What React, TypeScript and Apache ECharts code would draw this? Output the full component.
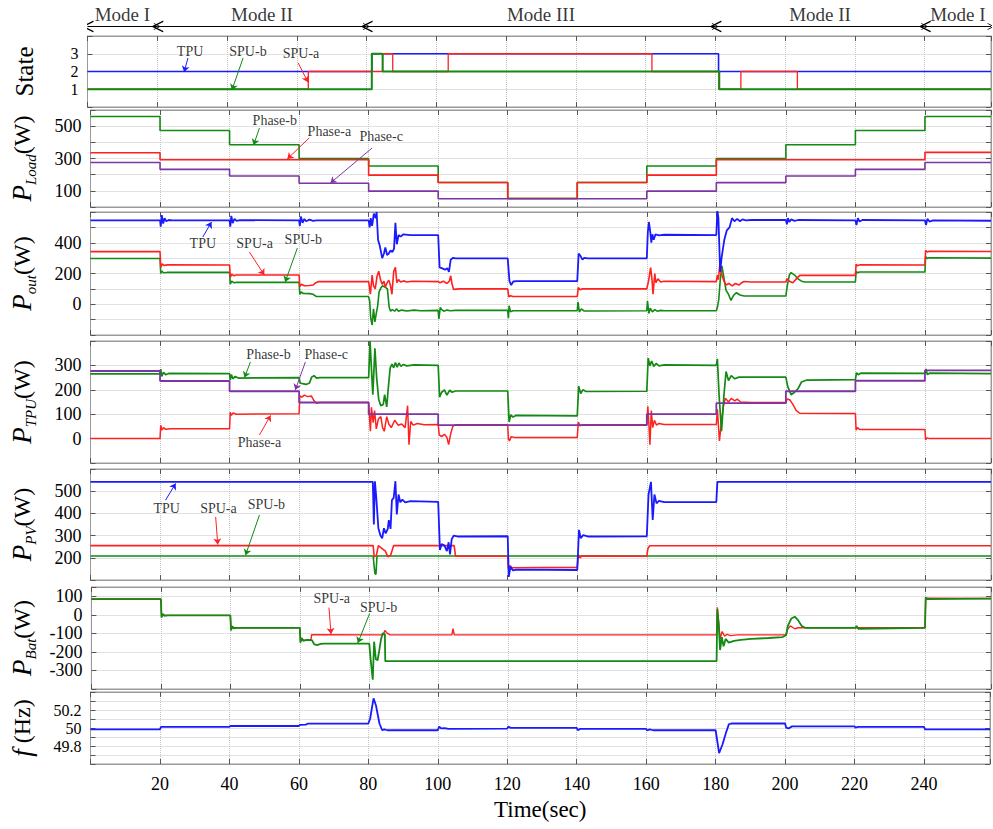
import React, { useEffect, useRef } from 'react';
import * as echarts from 'echarts';

const FONT = "'Liberation Serif', 'Times New Roman', serif";
const BLUE = '#1a1aff';
const RED = '#ff2020';
const GREEN = '#138a13';
const PURPLE = '#7e35a4';

const T_MAX = 259;
const modeBounds = [0, 20, 80, 180, 240, 259];
const modeNames = ['Mode I', 'Mode II', 'Mode III', 'Mode II', 'Mode I'];
const timeTicks = [20, 40, 60, 80, 100, 120, 140, 160, 180, 200, 220, 240];

const stateTicks = [1, 2, 3];
const loadTicks = [100, 300, 500];
const outTicks = [0, 200, 400];
const tpuTicks = [0, 100, 200, 300];
const pvTicks = [200, 300, 400, 500];
const batTicks = [100, 0, -100, -200, -300];
const freqTicks = [49.8, 50, 50.2];

// ---- State ----
const stateTPU = [[0, 2], [81.5, 2], [81.5, 3], [180.9, 3], [180.9, 2], [259, 2]];
const stateSPUa = [[0, 1], [63.3, 1], [63.3, 2], [84.6, 2], [84.6, 3], [87.5, 3], [87.5, 2], [103.4, 2], [103.4, 3], [161.8, 3], [161.8, 2], [181, 2], [181, 1], [187.3, 1], [187.3, 2], [203.5, 2], [203.5, 1], [259, 1]];
const stateSPUb = [[0, 1], [81.5, 1], [81.5, 3], [84.6, 3], [84.6, 2], [181.1, 2], [181.1, 1], [259, 1]];

// ---- P_Load ----
const loadA = [[0, 336], [20, 336], [20, 292], [80, 292], [80, 197], [100, 197], [100, 152], [120, 152], [120, 53], [140, 53], [140, 152], [160, 152], [160, 197], [180, 197], [180, 292], [240, 292], [240, 338], [259, 338]];
const loadB = [[0, 560], [20, 560], [20, 473], [40, 473], [40, 385], [60, 385], [60, 300], [80, 300], [80, 254], [100, 254], [100, 152], [120, 152], [120, 53], [140, 53], [140, 152], [160, 152], [160, 254], [180, 254], [180, 300], [200, 300], [200, 385], [220, 385], [220, 473], [240, 473], [240, 560], [259, 560]];
const loadC = [[0, 275], [20, 275], [20, 233], [40, 233], [40, 192], [60, 192], [60, 147], [80, 147], [80, 98], [100, 98], [100, 51], [160, 51], [160, 98], [180, 98], [180, 151], [200, 151], [200, 192], [220, 192], [220, 233], [240, 233], [240, 275], [259, 275]];

// ---- P_out ----
const outTPU = [[0, 545], [20, 545], [20.2, 505], [20.5, 580], [20.9, 525], [21.3, 560], [21.8, 540], [22.5, 548], [23.5, 545],
[40, 545], [40.2, 505], [40.5, 575], [40.9, 528], [41.4, 556], [42, 542], [43, 547],
[60, 545], [60.2, 510], [60.5, 570], [61, 530], [61.5, 555], [62, 540], [63, 550], [64, 542], [65, 546],
[80, 545], [80.3, 500], [80.6, 560], [81, 510], [81.5, 590], [82, 560], [82.3, 600], [82.7, 420], [83.2, 380], [83.9, 300], [84.4, 330], [84.8, 370], [85.3, 320], [85.8, 330], [86.3, 350], [86.8, 340], [87.3, 360], [87.7, 530], [88.1, 390], [88.6, 450], [89.2, 440], [90, 455], [92, 450],
[100, 450], [100.4, 240], [101, 235], [102, 225], [102.6, 235], [103.1, 210], [103.6, 290], [104.3, 302], [105, 298],
[120, 298], [120.5, 150], [121, 125], [121.6, 148], [122.5, 150],
[140, 150], [140.4, 330], [140.9, 315], [141.5, 290], [142, 302], [143, 298],
[160, 298], [160.3, 470], [160.6, 535], [161, 470], [161.3, 400], [161.6, 455], [162, 420], [162.5, 455], [163.5, 448], [165, 452],
[180, 450], [180.3, 610], [180.6, 560], [181.1, 210], [181.5, 300], [182.3, 420], [183, 480], [183.8, 500], [184.5, 560], [185.2, 540], [186, 555], [186.8, 540], [187.5, 552], [188.5, 546], [190, 548],
[200, 548], [200.3, 520], [200.6, 560], [201, 535], [201.5, 552], [202.5, 542], [203.5, 548],
[220, 546], [220.3, 515], [220.7, 560], [221.2, 538], [222, 548],
[240, 546], [240.3, 515], [240.7, 555], [241.3, 538], [242.3, 545], [259, 543]];
const outSPUa = [[0, 342], [20, 342], [20.2, 240], [20.6, 262], [21.2, 252], [22, 256],
[40, 255], [40.2, 175], [40.6, 195], [41.2, 186], [42, 190],
[60, 190], [60.2, 115], [60.7, 130], [61.5, 120], [63, 122], [64, 125], [64.8, 140], [65.5, 147],
[80, 147], [80.5, 65], [81, 190], [81.4, 120], [81.9, 100], [82.4, 180], [82.9, 215], [83.4, 160], [83.9, 130], [84.4, 150], [84.8, 110], [85.3, 140], [85.8, 157], [86.3, 120], [86.7, 65], [87.2, 212], [87.7, 240], [88.1, 140], [88.6, 160], [89.2, 145], [90, 152], [91, 145], [92.5, 150],
[100, 147], [100.5, 140], [101.5, 150], [102.5, 135], [103.2, 150], [103.6, 185], [104, 130], [104.4, 97], [106, 100],
[120, 100], [120.3, 48], [120.8, 55], [121.5, 50],
[140, 50], [140.3, 108], [140.8, 95], [141.5, 100],
[160, 100], [160.5, 150], [161.1, 238], [161.5, 160], [161.8, 65], [162.3, 200], [162.6, 140], [163.2, 165], [164, 145], [165, 150],
[180, 147], [180.3, 190], [180.6, 160], [181, 260], [181.5, 200], [182.2, 150], [182.8, 125], [183.6, 135], [184.6, 120], [185.5, 135], [186.5, 125], [187.3, 140], [188, 148], [190, 145],
[200, 145], [200.3, 165], [201, 150], [202, 140], [203, 165], [204, 188],
[220, 188], [220.2, 260], [220.6, 250], [221.2, 256],
[240, 255], [240.2, 350], [240.7, 340], [241.3, 345], [259, 343]];
const outSPUb = [[0, 298], [20, 298], [20.2, 200], [20.5, 215], [21, 205], [22, 207],
[40, 207], [40.2, 130], [40.6, 150], [41.2, 140], [42, 142],
[60, 142], [60.2, 65], [60.6, 80], [61.2, 70], [63, 69], [64, 65], [65, 50],
[80, 50], [80.3, 20], [80.6, -90], [81, -135], [81.4, -30], [81.8, -115], [82.2, -60], [82.6, -10], [83, 80], [83.5, 105], [84, 120], [84.8, 110], [85.4, 100], [85.9, -20], [86.3, -45], [86.8, -35], [87.5, -45], [88, -30], [88.6, -45], [89.5, -38], [91, -44], [93, -38], [95, -42],
[100, -40], [100.2, -95], [100.6, -20], [101, -35], [101.6, -45], [102.5, -38], [103.5, -42], [105, -40],
[120, -40], [120.2, -90], [120.4, -10], [120.8, -48], [121.5, -42],
[140, -42], [140.2, 15], [140.6, -50], [141.2, -30], [142, -44],
[160, -42], [160.2, 20], [160.6, -60], [161, -25], [161.6, -50], [162.3, -35], [163, -45], [164, -40], [165, -42],
[180, -42], [180.3, -20], [180.7, 30], [181.1, 150], [181.6, 250], [182.2, 170], [182.8, 90], [183.5, 65], [184.2, 25], [185, 60], [185.8, 75], [186.8, 60], [188, 54],
[200, 54], [200.4, 120], [201, 190], [201.5, 206], [202.5, 190], [203.5, 165], [204.5, 150], [205.5, 145],
[220, 145], [220.2, 215], [220.6, 205], [221.2, 210],
[240, 210], [240.2, 310], [240.6, 298], [241.2, 302], [259, 300]];

// ---- P_TPU ----
const tpuA = [[0, 0], [20, 0], [20.2, 55], [20.5, 35], [21, 45], [21.6, 38], [23, 40],
[40, 40], [40.2, 108], [40.5, 95], [41, 105], [42, 100],
[60, 102], [60.2, 175], [60.8, 170], [61.5, 178], [62.5, 172], [63.5, 175], [64.3, 155], [65, 145], [66, 148],
[80, 148], [80.2, 100], [80.5, 30], [80.8, 128], [81.3, 65], [81.7, 115], [82.2, 40], [82.8, 80], [83.5, 90], [84, 45], [84.5, 30], [85.2, 90], [85.8, 60], [86.5, 45], [87.5, 75], [88.5, 55], [89.5, 60], [90.5, 45], [91.2, 135], [91.6, -25], [92.1, 70], [92.8, 55], [94, 62], [96, 57],
[100, 58], [100.3, 15], [101, 8], [101.8, 18], [102.5, 5], [103, -25], [103.6, 20], [104.2, 50], [105, 57],
[120, 57], [120.2, 0], [120.5, -10], [121, 8], [122, 5],
[140, 5], [140.3, 68], [140.8, 52], [141.5, 57],
[160, 57], [160.3, 132], [160.6, 60], [160.9, -25], [161.3, 115], [161.7, 45], [162.2, 75], [162.8, 55], [163.5, 62], [165, 58],
[180, 58], [180.3, 120], [180.9, -10], [181.4, 60], [182, 130], [182.6, 166], [183.5, 150], [184.3, 165], [185.3, 155], [186, 162], [187, 150], [190, 148],
[200, 148], [200.4, 163], [201.2, 158], [202, 140], [203, 115], [204, 104],
[220, 103], [220.2, 35], [220.6, 45], [221.2, 37],
[240, 37], [240.2, -5], [240.6, 3], [241.3, 0], [259, 0]];
const tpuB = [[0, 265], [20, 265], [20.2, 285], [20.5, 255], [21, 272], [21.6, 262], [22.5, 267],
[40, 266], [40.2, 240], [40.5, 262], [41, 245], [41.6, 255], [42.5, 248],
[60, 250], [60.3, 228], [61, 225], [62, 222], [63, 228], [63.6, 252], [64.3, 258], [65, 248], [66, 250],
[80, 250], [80.4, 400], [80.9, 260], [81.2, 180], [81.8, 370], [82.3, 250], [82.9, 160], [83.5, 135], [84.2, 140], [84.6, 180], [85.2, 130], [85.6, 200], [86.2, 290], [86.7, 305], [87.2, 290], [87.7, 312], [88.2, 293], [88.7, 310], [89.3, 296], [90, 304], [91, 298], [93, 302],
[100, 300], [100.4, 170], [101, 190], [101.8, 200], [102.5, 178], [103.3, 198], [104, 190], [105, 195],
[120, 195], [120.4, 68], [120.9, 98], [121.5, 88], [122.3, 95],
[140, 93], [140.4, 215], [141, 185], [141.6, 200], [142.5, 193],
[160, 194], [160.4, 330], [160.9, 298], [161.4, 318], [162, 296], [162.7, 308], [163.5, 298], [165, 302],
[180, 300], [180.3, 327], [180.8, 175], [181.5, 30], [182.2, 180], [182.8, 275], [183.5, 238], [184.3, 258], [185.3, 245], [186.5, 252],
[200, 252], [200.5, 215], [201.5, 180], [202.5, 190], [203.5, 205], [204.5, 232], [206, 240],
[220, 242], [220.3, 270], [220.8, 262], [221.5, 268],
[240, 267], [240.3, 285], [240.7, 262], [241.3, 268], [259, 266]];
const tpuC = [[0, 277], [20, 277], [20, 236], [40, 236], [40, 194], [60, 194], [60, 148], [80, 148], [80, 100], [100, 100], [100, 55], [160, 55], [160, 100], [180, 100], [180, 145], [200, 145], [200, 194], [220, 194], [220, 237], [240, 237], [240, 280], [259, 280]];

// ---- P_PV ----
const pvTPU = [[0, 542], [81.2, 542], [81.5, 350], [81.8, 545], [82.2, 470], [82.8, 333], [83.4, 300], [83.9, 288], [84.4, 333], [84.9, 310], [85.5, 330], [85.8, 370], [86.3, 330], [86.7, 460], [87.2, 470], [87.7, 545], [88.1, 395], [88.6, 485], [89.1, 450], [89.7, 462], [90.5, 450], [92, 455],
[100, 452], [100.5, 235], [101, 262], [101.8, 255], [102.5, 230], [103, 270], [103.4, 215], [103.9, 285], [104.5, 300], [105.5, 296],
[120, 297], [120.3, 114], [120.8, 160], [121.5, 143], [122.5, 147],
[140, 145], [140.5, 326], [141, 288], [141.7, 302], [143, 296],
[160, 297], [160.5, 485], [161.2, 542], [161.7, 371], [162.2, 485], [162.8, 445], [163.5, 456], [165, 451],
[180, 451], [180.3, 542], [259, 542]];
const pvSPUa = [[0, 255], [81.3, 255], [81.6, 205], [82.2, 210], [82.8, 255], [83.6, 245], [84.8, 230], [85.5, 205], [86.3, 210], [87.2, 255], [104.6, 255], [105, 207], [120, 207], [120.2, 150], [120.6, 165], [121.2, 155], [140, 157], [140.3, 215], [140.7, 200], [141.3, 208], [160, 207], [160.3, 240], [160.8, 254], [259, 254]];
const pvSPUb = [[0, 208], [81.3, 208], [81.5, 175], [81.8, 130], [82.1, 125], [82.4, 208], [259, 208]];

// ---- P_Bat ----
const batSPUa = [[0, 85], [20, 85], [20.2, -10], [20.6, 2], [21.2, -3], [40, -3], [40.2, -78], [40.6, -64], [41.2, -70], [60, -70], [60.2, -145], [60.6, -130], [61.2, -138], [62, -135], [63.2, -137], [63.4, -107], [84, -108], [84.5, -85], [85.2, -100], [86, -108], [103.8, -108], [104.1, -75], [104.5, -108], [180, -108], [180.2, 40], [180.6, -40], [181, -130], [181.6, -90], [182.3, -115], [183, -105], [184, -112], [186, -108], [200, -108], [200.4, -80], [201.2, -60], [202.5, -75], [203.5, -70], [240, -70], [240.2, 90], [259, 88]];
const batSPUb = [[0, 85], [20, 85], [20.2, -15], [20.5, 5], [21, -5], [22, -3], [40, -3], [40.2, -85], [40.5, -62], [41, -73], [42, -70], [60, -70], [60.2, -150], [60.5, -125], [61, -140], [62, -135], [63.5, -137], [64.2, -160], [65, -163], [66, -157], [67, -155], [80, -155], [80.4, -240], [81, -350], [81.4, -145], [81.9, -240], [82.4, -245], [82.9, -190], [83.4, -130], [83.9, -100], [84.5, -105], [84.6, -250], [180, -250], [180.2, 30], [180.6, -50], [181, -190], [181.5, -120], [182, -170], [182.6, -130], [183.5, -150], [185, -140], [187, -135], [190, -130], [195, -125], [199, -120], [200, -110], [200.5, -60], [201.5, -20], [202.5, -10], [203.5, -30], [204.5, -60], [205.5, -70], [220, -70], [220.3, -60], [220.8, -75], [240, -70], [240.2, 95], [240.6, 85], [259, 87]];

// ---- frequency ----
const freq = [[0, 49.985], [20, 49.985], [20.3, 50.012], [40, 50.012], [40.3, 50.022], [60, 50.022], [60.3, 50.035], [62, 50.038], [62.5, 50.048], [80, 50.05], [80.5, 50.1], [81.5, 50.33], [82.2, 50.25], [83.2, 50.05], [84, 49.975], [84.6, 49.985], [85.5, 49.975], [100, 49.975], [100.4, 50.015], [101, 49.995], [102, 49.998], [103, 49.99], [120, 49.993], [120.3, 50.015], [121, 50.002], [140, 50.002], [140.3, 49.975], [141, 49.99], [160, 49.99], [160.3, 49.972], [161, 49.985], [162, 49.975], [180, 49.975], [180.3, 49.9], [181, 49.72], [182, 49.82], [183, 49.95], [183.8, 50.04], [184.5, 50.05], [200, 50.05], [200.3, 50.005], [201, 49.995], [202, 50.018], [220, 50.018], [220.3, 50.005], [221, 50.012], [240, 50.012], [240.3, 49.985], [259, 49.985]];

// each series: [data, colour, line width]
const panels: any[] = [
  {
    top: 36, height: 71, min: 0, max: 4, interval: 1, labels: stateTicks, labelSize: 16, name: '{n|State}', nameGap: 51,
    series: [[stateTPU, BLUE, 1.6], [stateSPUa, RED, 1.3], [stateSPUb, GREEN, 2.0]],
    notes: [
      { text: 'TPU', at: [29.4, 3.15], from: [28.8, 2.76], to: [27.7, 1.97], color: BLUE },
      { text: 'SPU-b', at: [46.0, 3.15], from: [44.6, 2.76], to: [41.4, 0.95], color: GREEN },
      { text: 'SPU-a', at: [61.2, 2.99], from: [60.4, 2.48], to: [63.2, 1.4], color: RED },
    ],
  },
  {
    top: 110, height: 97, min: 0, max: 600, interval: 100, labels: loadTicks, labelSize: 18, name: '{p|P}{s|Load}{u|(W)}', nameGap: 52,
    series: [[loadB, GREEN, 1.6], [loadA, RED, 1.6], [loadC, PURPLE, 1.6]],
    notes: [
      { text: 'Phase-b', at: [53.0, 532], from: [48.6, 489], to: [46.9, 383], color: GREEN },
      { text: 'Phase-a', at: [68.7, 464], from: [62.9, 427], to: [56.6, 297], color: RED },
      { text: 'Phase-c', at: [83.6, 433], from: [81.0, 365], to: [69.0, 148], color: PURPLE },
    ],
  },
  {
    top: 212, height: 123, min: -200, max: 600, interval: 100, labels: outTicks, labelSize: 18, name: '{p|P}{s|out}{u|(W)}', nameGap: 52,
    series: [[outSPUb, GREEN, 1.6], [outSPUa, RED, 1.6], [outTPU, BLUE, 1.8]],
    notes: [
      { text: 'TPU', at: [32.3, 398], from: [32.3, 437], to: [34.8, 535], color: BLUE },
      { text: 'SPU-a', at: [47.2, 398], from: [45.7, 340], to: [50.0, 190], color: RED },
      { text: 'SPU-b', at: [61.2, 418], from: [59.5, 366], to: [56.0, 145], color: GREEN },
    ],
  },
  {
    top: 341, height: 122, min: -100, max: 400, interval: 100, labels: tpuTicks, labelSize: 18, name: '{p|P}{s|TPU}{u|(W)}', nameGap: 52,
    series: [[tpuA, RED, 1.5], [tpuB, GREEN, 1.7], [tpuC, PURPLE, 1.8]],
    notes: [
      { text: 'Phase-b', at: [51.2, 343], from: [46.0, 314], to: [44.3, 250], color: GREEN },
      { text: 'Phase-c', at: [67.8, 343], from: [61.8, 314], to: [58.9, 199], color: PURPLE },
      { text: 'Phase-a', at: [48.6, -18], from: [48.6, 15], to: [51.8, 95], color: RED },
    ],
  },
  {
    top: 469, height: 111, min: 100, max: 600, interval: 100, labels: pvTicks, labelSize: 18, name: '{p|P}{s|PV}{u|(W)}', nameGap: 52,
    series: [[pvSPUb, GREEN, 1.6], [pvSPUa, RED, 1.6], [pvTPU, BLUE, 1.8]],
    notes: [
      { text: 'TPU', at: [21.9, 420], from: [21.6, 460], to: [24.5, 535], color: BLUE },
      { text: 'SPU-a', at: [36.8, 420], from: [36.0, 384], to: [36.6, 260], color: RED },
      { text: 'SPU-b', at: [50.6, 438], from: [48.6, 393], to: [44.6, 212], color: GREEN },
    ],
  },
  {
    top: 587, height: 102, min: -400, max: 150, interval: 100, labels: batTicks, labelSize: 18, name: '{p|P}{s|Bat}{u|(W)}', nameGap: 52,
    series: [[batSPUa, RED, 1.4], [batSPUb, GREEN, 1.8]],
    notes: [
      { text: 'SPU-a', at: [69.2, 87], from: [68.4, 39], to: [69.0, -104], color: RED },
      { text: 'SPU-b', at: [82.7, 39], from: [80.1, 7], to: [76.7, -152], color: GREEN },
    ],
  },
  {
    top: 692, height: 72, min: 49.6, max: 50.4, interval: 0.1, labels: freqTicks, labelSize: 16, name: '{p|f}{u| (Hz)}', nameGap: 52,
    series: [[freq, BLUE, 1.8]],
    notes: [],
  },
];

const AXC = '#9a9a9a';
const TICKC = '#555';
const GRIDC = '#c4c4c4';
const CHEVRON = 'path://M0,10 L5,0 L10,10 L8.8,10 L5,2.6 L1.2,10 Z';

const nameRich = {
  n: { fontFamily: FONT, fontSize: 25, color: '#000' },
  p: { fontFamily: FONT, fontStyle: 'italic', fontSize: 27, lineHeight: 34, color: '#000' },
  s: { fontFamily: FONT, fontStyle: 'italic', fontSize: 15, lineHeight: 15, verticalAlign: 'bottom', color: '#000' },
  u: { fontFamily: FONT, fontSize: 24, lineHeight: 34, color: '#000' },
};

function buildOption() {
  const L = 87.5;
  const R = 2;
  const grid: any[] = [{ left: L, right: R, top: 10, height: 22, show: false }];
  const xAxis: any[] = [{ gridIndex: 0, type: 'value', min: 0, max: T_MAX, show: false }];
  const yAxis: any[] = [{ gridIndex: 0, type: 'value', min: 0, max: 1, show: false }];
  const series: any[] = [];

  // Mode row
  series.push({
    type: 'lines', coordinateSystem: 'cartesian2d', xAxisIndex: 0, yAxisIndex: 0, silent: true,
    symbol: [CHEVRON, CHEVRON], symbolSize: [12, 7],
    lineStyle: { color: '#000', width: 1, opacity: 1, curveness: 0 },
    data: modeNames.map((_, k) => ({ coords: [[modeBounds[k], 0.25], [modeBounds[k + 1], 0.25]] })),
  });
  series.push({
    type: 'scatter', xAxisIndex: 0, yAxisIndex: 0, silent: true, symbolSize: 1,
    itemStyle: { color: 'rgba(0,0,0,0)' },
    label: { show: true, position: 'inside', formatter: '{b}', fontFamily: FONT, fontSize: 19, color: '#000' },
    data: modeNames.map((nm, k) => ({ name: nm, value: [(modeBounds[k] + modeBounds[k + 1]) / 2, 0.78] })),
  });

  const last = panels.length - 1;
  panels.forEach((p, i) => {
    grid.push({ left: L, right: R, top: p.top, height: p.height, show: true, borderColor: AXC, borderWidth: 1 });
    const gi = i + 1;
    const common = { gridIndex: gi, type: 'value', min: 0, max: T_MAX, interval: 20 };
    xAxis.push({
      ...common, position: 'bottom',
      axisLine: { show: true, onZero: false, lineStyle: { color: AXC } },
      axisTick: { show: true, inside: true, length: 5, lineStyle: { color: TICKC } },
      axisLabel: {
        show: i === last, margin: 11, fontFamily: FONT, fontSize: 18, color: '#000',
        formatter: (v: number) => (timeTicks.includes(Math.round(v)) && Math.abs(v - Math.round(v)) < 1e-6 ? String(Math.round(v)) : ''),
      },
      splitLine: { show: true, lineStyle: { color: GRIDC, type: 'dotted', width: 1 } },
      name: i === last ? 'Time(sec)' : '', nameLocation: 'middle', nameGap: 34,
      nameTextStyle: { fontFamily: FONT, fontSize: 23, color: '#000' },
    });
    xAxis.push({
      ...common, position: 'top',
      axisLine: { show: true, onZero: false, lineStyle: { color: AXC } },
      axisTick: { show: true, inside: true, length: 5, lineStyle: { color: TICKC } },
      axisLabel: { show: false }, splitLine: { show: false },
    });
    const ycommon = { gridIndex: gi, type: 'value', min: p.min, max: p.max, interval: p.interval };
    yAxis.push({
      ...ycommon, position: 'left',
      axisLine: { show: true, onZero: false, lineStyle: { color: AXC } },
      axisTick: { show: true, inside: true, length: 5, lineStyle: { color: TICKC } },
      axisLabel: {
        show: true, margin: 9, fontFamily: FONT, fontSize: p.labelSize, color: '#000',
        formatter: (v: number) => {
          const r = Math.round(v * 1000) / 1000;
          return p.labels.some((l: number) => Math.abs(l - r) < 1e-6) ? String(r) : '';
        },
      },
      splitLine: { show: true, lineStyle: { color: GRIDC, type: 'dotted', width: 1 } },
      name: p.name, nameLocation: 'middle', nameRotate: 90, nameGap: p.nameGap,
      nameTextStyle: { rich: nameRich },
    });
    yAxis.push({
      ...ycommon, position: 'right',
      axisLine: { show: true, onZero: false, lineStyle: { color: AXC } },
      axisTick: { show: true, inside: true, length: 5, lineStyle: { color: TICKC } },
      axisLabel: { show: false }, splitLine: { show: false },
    });
    const xi = 1 + 2 * i;
    const yi = 1 + 2 * i;
    p.series.forEach((s: any, k: number) => {
      series.push({
        type: 'line', xAxisIndex: xi, yAxisIndex: yi, data: s[0], showSymbol: false, symbol: 'none',
        silent: true, z: 2 + k,
        lineStyle: { color: s[1], width: s[2] }, itemStyle: { color: s[1] },
      });
    });
    if (p.notes.length) {
      series.push({
        type: 'lines', coordinateSystem: 'cartesian2d', xAxisIndex: xi, yAxisIndex: yi, silent: true, z: 10,
        symbol: ['none', 'arrow'], symbolSize: 6,
        lineStyle: { width: 1, opacity: 1, curveness: 0 },
        data: p.notes.map((n: any) => ({ coords: [n.from, n.to], lineStyle: { color: n.color } })),
      });
      series.push({
        type: 'scatter', xAxisIndex: xi, yAxisIndex: yi, silent: true, z: 10, symbolSize: 1,
        itemStyle: { color: 'rgba(0,0,0,0)' },
        label: { show: true, position: 'inside', formatter: '{b}', fontFamily: FONT, fontSize: 14, color: '#000' },
        data: p.notes.map((n: any) => ({ name: n.text, value: n.at })),
      });
    }
  });

  return {
    animation: false,
    backgroundColor: '#fff',
    textStyle: { fontFamily: FONT },
    grid, xAxis, yAxis, series,
  };
}

export default function App() {
  const ref = useRef<HTMLDivElement>(null);
  useEffect(() => {
    const chart = echarts.init(ref.current as HTMLDivElement, null, { renderer: 'svg' });
    chart.setOption(buildOption() as any);
    return () => chart.dispose();
  }, []);
  return (
    <div
      ref={ref}
      style={{ position: 'fixed', left: 0, top: 0, width: 993, height: 829, background: '#fff' }}
    />
  );
}
